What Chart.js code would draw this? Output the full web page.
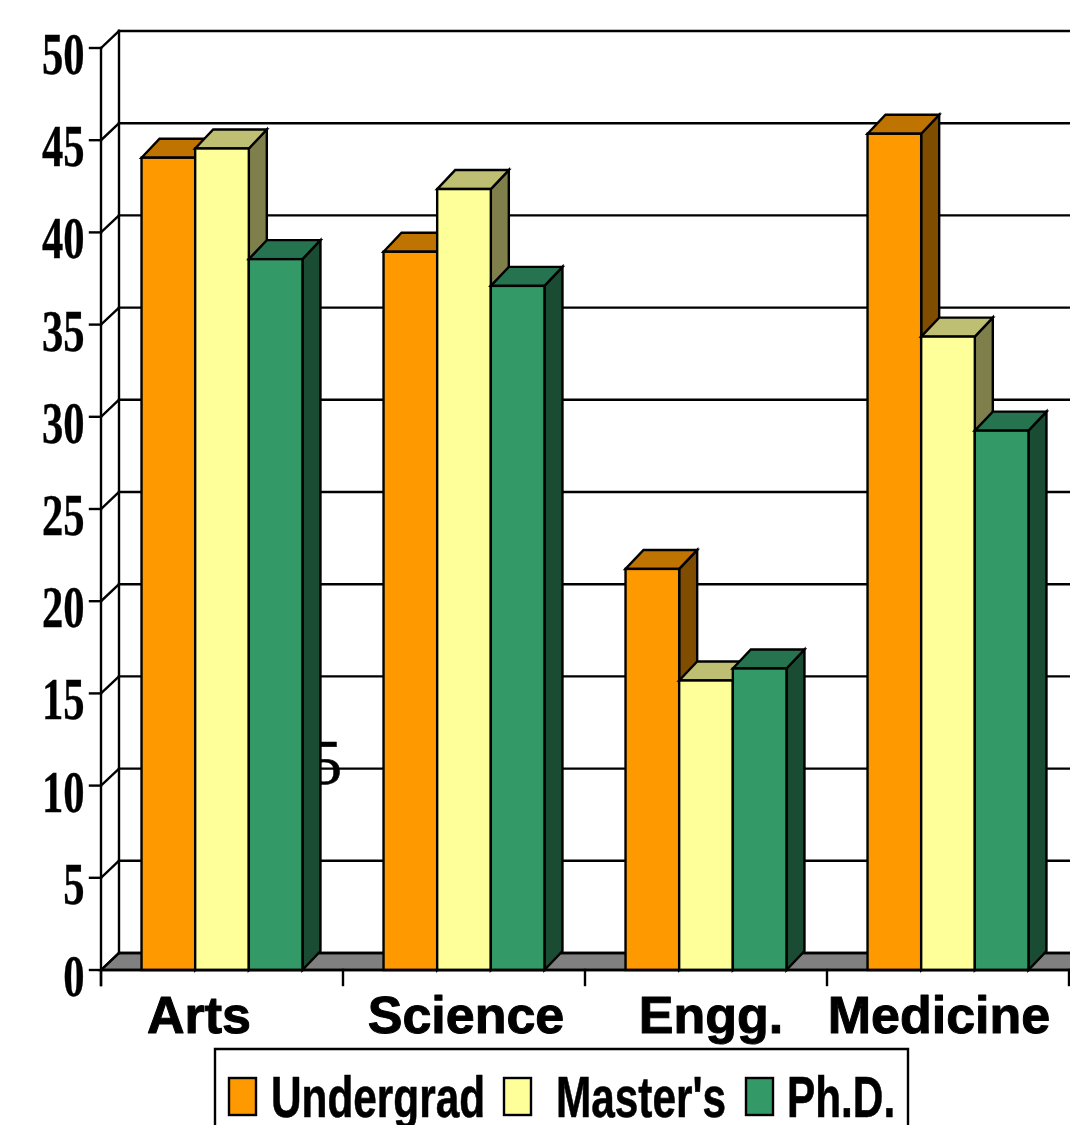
<!DOCTYPE html>
<html>
<head>
<meta charset="utf-8">
<title>Degrees by faculty</title>
<script src="https://cdn.jsdelivr.net/npm/chart.js@4/dist/chart.umd.min.js"></script>
<style>
    html, body { margin: 0; padding: 0; background: #fff; overflow: hidden; }
    canvas { display: block; }
</style>
</head>
<body>
<canvas id="degreeChart" width="1070" height="1125"></canvas>
<script>
const categories = ["Arts", "Science", "Engg.", "Medicine"];
const undergrad = [44.05, 38.95, 21.75, 45.35];
const masters = [44.55, 42.35, 15.7, 34.35];
const phd = [38.55, 37.1, 16.35, 29.25];
const yTickLabels = ["0", "5", "10", "15", "20", "25", "30", "35", "40", "45", "50"];

// the category labels are not centred under their groups in the original
const categoryLabelShift = [-23, 2, 5, -9];
const legendSwatchX = [229, 504, 746];
const legendTextX = [271, 556, 787];

const sideColors = ["#7f4c00", "#7f7f4c", "#1a4c33"];
const topColors = ["#bf7300", "#bfbf73", "#267350"];

const depthX = 18;       // depth of the walls and the bars
const wallDepthY = 17;
const barDepthY = 19;

function squishedText(ctx, text, x, y, font, scaleX, align, heavy) {
    ctx.save();
    ctx.font = font;
    ctx.textAlign = align;
    ctx.textBaseline = "alphabetic";
    ctx.fillStyle = "#000";
    ctx.translate(x, y);
    ctx.scale(scaleX, 1);
    ctx.fillText(text, 0, 0);
    if (heavy) {
        ctx.lineWidth = heavy;
        ctx.lineJoin = "round";
        ctx.strokeText(text, 0, 0);
    }
    ctx.restore();
}

function polygon(ctx, points, fill) {
    ctx.beginPath();
    points.forEach((p, i) => i ? ctx.lineTo(p[0], p[1]) : ctx.moveTo(p[0], p[1]));
    ctx.closePath();
    ctx.fillStyle = fill;
    ctx.fill();
    ctx.stroke();
}

function line(ctx, x1, y1, x2, y2) {
    ctx.beginPath();
    ctx.moveTo(x1, y1);
    ctx.lineTo(x2, y2);
    ctx.stroke();
}

const box3d = {
    id: "box3d",

    // chart.js paints the first dataset last, here the left bar has to go first
    beforeDatasetDraw() {
        return false;
    },

    // walls, floor, grid and axis labels
    beforeDatasetsDraw(chart) {
        const ctx = chart.ctx;
        const yScale = chart.scales.y;
        const xScale = chart.scales.x;
        const left = xScale.left;
        const right = xScale.right;
        const bottom = yScale.bottom;
        const top = yScale.top;
        const edge = chart.width + depthX;

        ctx.save();
        ctx.strokeStyle = "#000";
        ctx.lineWidth = 2.4;
        ctx.lineCap = "square";

        // leftover digit from the original picture, sits behind the bars
        squishedText(ctx, "5", 342, 784, "64px 'Liberation Serif'", 1, "right", 0.6);

        polygon(ctx, [[left, bottom], [left + depthX, bottom - wallDepthY], [edge, bottom - wallDepthY], [edge, bottom]], "#808080");

        yScale.ticks.forEach((tick, i) => {
            const py = yScale.getPixelForTick(i);
            line(ctx, left - 11, py, left, py);
            line(ctx, left, py, left + depthX, py - wallDepthY);
            line(ctx, left + depthX, py - wallDepthY, edge, py - wallDepthY);
            squishedText(ctx, tick.label, 84.5, py + 26, "bold 60px 'Liberation Serif'", 0.71, "right", 0.4);
        });

        line(ctx, left, top, left, bottom + 15);
        line(ctx, left + depthX, top - wallDepthY, left + depthX, bottom - wallDepthY);

        const band = (right - left) / categories.length;
        for (let i = 0; i <= categories.length; i++) {
            line(ctx, left + i * band, bottom, left + i * band, bottom + 15);
        }
        categories.forEach((name, i) => {
            const cx = xScale.getPixelForTick(i) + categoryLabelShift[i];
            squishedText(ctx, name, cx, 1033, "bold 52px 'Liberation Sans'", 1, "center", 1);
        });
        ctx.restore();
    },

    // per series: sides and tops, then the library's own bar element, then the outline
    afterDatasetsDraw(chart) {
        const ctx = chart.ctx;
        ctx.save();
        ctx.strokeStyle = "#000";
        ctx.lineWidth = 2.4;
        chart.data.datasets.forEach((ds, i) => {
            chart.getDatasetMeta(i).data.forEach(bar => {
                const l = bar.x - bar.width / 2;
                const r = bar.x + bar.width / 2;
                polygon(ctx, [[r, bar.y], [r + depthX, bar.y - barDepthY], [r + depthX, bar.base - barDepthY], [r, bar.base]], sideColors[i]);
                polygon(ctx, [[l, bar.y], [l + depthX, bar.y - barDepthY], [r + depthX, bar.y - barDepthY], [r, bar.y]], topColors[i]);
                bar.draw(ctx);
                ctx.strokeRect(l, bar.y, bar.width, bar.base - bar.y);
            });
        });
        ctx.restore();
    },

    afterDraw(chart) {
        const ctx = chart.ctx;
        const bottom = chart.scales.y.bottom;
        ctx.save();
        ctx.strokeStyle = "#000";
        ctx.lineWidth = 2.4;
        line(ctx, chart.scales.x.left, bottom, chart.width, bottom);

        // legend box runs off the bottom of the picture
        ctx.beginPath();
        ctx.moveTo(215, chart.height + 2);
        ctx.lineTo(215, 1049);
        ctx.lineTo(908, 1049);
        ctx.lineTo(908, chart.height + 2);
        ctx.stroke();

        chart.data.datasets.forEach((ds, i) => {
            ctx.fillStyle = ds.backgroundColor;
            ctx.fillRect(legendSwatchX[i], 1078, 27, 37);
            ctx.strokeRect(legendSwatchX[i], 1078, 27, 37);
            squishedText(ctx, ds.label, legendTextX[i], 1117, "bold 58px 'Liberation Sans'", 0.73, "left", 0.6);
        });
        ctx.restore();
    }
};

new Chart(document.getElementById("degreeChart"), {
    type: "bar",
    data: {
        labels: categories,
        datasets: [
            { label: "Undergrad", data: undergrad, backgroundColor: "#ff9900" },
            { label: "Master's", data: masters, backgroundColor: "#ffff99" },
            { label: "Ph.D.", data: phd, backgroundColor: "#339966" }
        ]
    },
    options: {
        responsive: false,
        animation: false,
        devicePixelRatio: 1,
        layout: { padding: { left: 101, right: 1, top: 48, bottom: 155 } },
        datasets: { bar: { categoryPercentage: 0.665, barPercentage: 1, borderWidth: 0 } },
        scales: {
            x: {
                grid: { display: false, drawTicks: false },
                border: { display: false },
                ticks: { display: false }
            },
            y: {
                min: 0,
                max: 50,
                grid: { display: false, drawTicks: false },
                border: { display: false },
                ticks: {
                    display: false,
                    stepSize: 5,
                    callback: (value, index) => yTickLabels[index]
                }
            }
        },
        plugins: {
            legend: { display: false },
            tooltip: { enabled: false }
        }
    },
    plugins: [box3d]
});
</script>
</body>
</html>
